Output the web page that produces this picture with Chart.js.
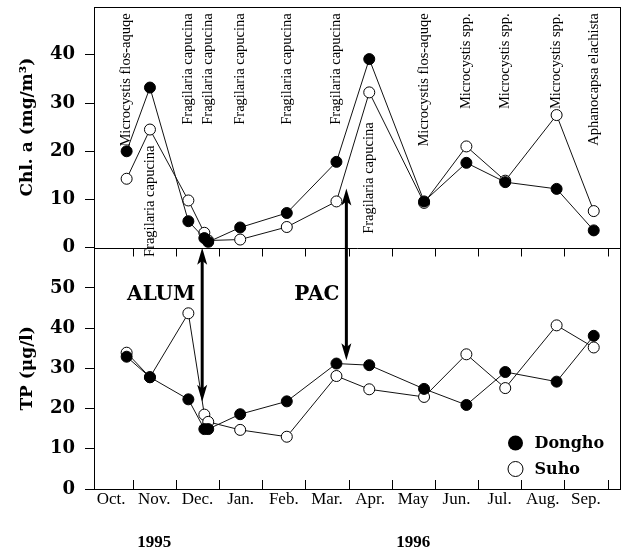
<!DOCTYPE html>
<html>
<head>
<meta charset="utf-8">
<script src="https://cdn.jsdelivr.net/npm/chart.js@4.4.1/dist/chart.umd.min.js"></script>
<style>
  body { margin: 0; background: #fff; }
  #wrap { width: 627px; height: 555px; position: relative; }
</style>
</head>
<body>
<div id="wrap"><canvas id="chart"></canvas></div>
<script>
// sampling dates, in months counted from 1 Oct 1995
const sampleMonth = [0.86, 1.40, 2.29, 2.66, 2.75, 3.49, 4.57, 5.72, 6.48, 7.75, 8.73, 9.63, 10.82, 11.68];

// Chl. a (mg/m3)
const chlDongho = [20.0, 33.2, 5.5, 2.0, 1.2, 4.2, 7.2, 17.8, 39.1, 9.6, 17.6, 13.6, 12.2, 3.6];
const chlSuho   = [14.3, 24.5, 9.8, 3.1, 1.5, 1.7, 4.3, 9.6, 32.2, 9.3, 21.0, 13.9, 27.5, 7.6];

// TP (ug/l)
const tpDongho = [32.9, 27.8, 22.3, 14.9, 14.9, 18.6, 21.8, 31.2, 30.8, 24.9, 20.9, 29.1, 26.7, 38.1];
const tpSuho   = [33.9, 27.8, 43.7, 18.5, 16.7, 14.7, 13.0, 28.1, 24.8, 22.9, 33.5, 25.1, 40.7, 35.2];

// dominant species at each sampling
const species = ['Microcystis flos-aquqe', 'Fragilaria capucina', 'Fragilaria capucina', '',
  'Fragilaria capucina', 'Fragilaria capucina', 'Fragilaria capucina', 'Fragilaria capucina',
  'Fragilaria capucina', 'Microcystis flos-aquqe', 'Microcystis spp.', 'Microcystis spp.',
  'Microcystis spp.', 'Aphanocapsa elachista'];

const monthNames = ['Oct.', 'Nov.', 'Dec.', 'Jan.', 'Feb.', 'Mar.', 'Apr.', 'May', 'Jun.', 'Jul.', 'Aug.', 'Sep.'];
const yearLabels = ['1995', '1996'];
const chlTicks = [0, 10, 20, 30, 40];
const tpTicks = [0, 10, 20, 30, 40, 50];

function pts(vals) {
  return vals.map((v, i) => ({ x: sampleMonth[i], y: v }));
}

const filled = { borderColor: '#111', backgroundColor: '#000', pointBackgroundColor: '#000',
  pointBorderColor: '#000', borderWidth: 1, pointRadius: 5.5, pointBorderWidth: 1 };
const open = { borderColor: '#111', backgroundColor: '#fff', pointBackgroundColor: '#fff',
  pointBorderColor: '#000', borderWidth: 1, pointRadius: 5.5, pointBorderWidth: 1 };

const overlay = {
  id: 'overlay',
  afterDraw(chart) {
    const { ctx, chartArea: a, scales: { x, y, y2 } } = chart;
    ctx.save();
    ctx.strokeStyle = '#000';
    ctx.lineWidth = 1;
    // frame + panel divider
    ctx.strokeRect(Math.round(a.left) + 0.5, Math.round(a.top) + 0.5,
      Math.round(a.width) - 1, Math.round(a.height) - 1);
    const mid = Math.round(y.bottom) + 0.5;
    ctx.beginPath();
    ctx.moveTo(a.left, mid); ctx.lineTo(a.right, mid);
    // inward month ticks
    for (let k = 1; k <= 12; k++) {
      const px = Math.round(x.getPixelForValue(k)) + 0.5;
      ctx.moveTo(px, a.bottom); ctx.lineTo(px, a.bottom - 9);
      ctx.moveTo(px, mid); ctx.lineTo(px, mid + 8);
    }
    ctx.stroke();

    // species names, vertical
    const lowLabel = { 1: 21.2, 8: 26 };
    ctx.fillStyle = '#000';
    ctx.font = '14.5px "Liberation Serif"';
    ctx.textAlign = 'right';
    ctx.textBaseline = 'middle';
    species.forEach((s, i) => {
      if (!s) return;
      const px = x.getPixelForValue(sampleMonth[i]);
      const py = y.getPixelForValue(lowLabel[i] !== undefined ? lowLabel[i] : 48.6);
      ctx.save();
      ctx.translate(px, py);
      ctx.rotate(-Math.PI / 2);
      ctx.fillText(s, 0, 0);
      ctx.restore();
    });

    // treatment arrows
    function head(px, tip, dir) {
      ctx.beginPath();
      ctx.moveTo(px, tip);
      ctx.lineTo(px - 5, tip + dir * 17);
      ctx.lineTo(px, tip + dir * 13);
      ctx.lineTo(px + 5, tip + dir * 17);
      ctx.closePath();
      ctx.fill();
    }
    function arrow(month, chlTop, tpBottom, label) {
      const px = x.getPixelForValue(month);
      const top = y.getPixelForValue(chlTop);
      const bot = y2.getPixelForValue(tpBottom);
      ctx.lineWidth = 3;
      ctx.beginPath();
      ctx.moveTo(px, top + 10); ctx.lineTo(px, bot - 10);
      ctx.stroke();
      head(px, top, 1);
      head(px, bot, -1);
      ctx.font = 'bold 20px "DejaVu Serif"';
      ctx.textAlign = 'right';
      ctx.textBaseline = 'alphabetic';
      ctx.fillText(label, px - 7, y2.getPixelForValue(47));
    }
    arrow(2.61, 0, 21.7, 'ALUM');
    arrow(5.95, 12.3, 32.0, 'PAC');

    // legend
    const lx = a.right - 105;
    ctx.lineWidth = 1;
    ctx.beginPath();
    ctx.arc(lx, a.bottom - 46, 7.5, 0, Math.PI * 2);
    ctx.fill();
    ctx.beginPath();
    ctx.arc(lx, a.bottom - 20, 7.5, 0, Math.PI * 2);
    ctx.fillStyle = '#fff';
    ctx.fill();
    ctx.stroke();
    ctx.fillStyle = '#000';
    ctx.font = 'bold 16px "DejaVu Serif"';
    ctx.textAlign = 'left';
    ctx.fillText('Dongho', lx + 19, a.bottom - 41);
    ctx.fillText('Suho', lx + 19, a.bottom - 15);

    // years under the month axis
    ctx.font = 'bold 17px "Liberation Serif"';
    ctx.textAlign = 'center';
    ctx.fillText(yearLabels[0], x.getPixelForValue(1.5), a.bottom + 58);
    ctx.fillText(yearLabels[1], x.getPixelForValue(7.5), a.bottom + 58);
    ctx.restore();
  }
};

const tickFont = { family: 'DejaVu Serif', size: 18, weight: 'bold' };
const titleFont = { family: 'DejaVu Serif', size: 17, weight: 'bold' };

function fitY(s) {
  s.width = 94;
  s.paddingTop = 0;
  s.paddingBottom = 0;
}

new Chart(document.getElementById('chart'), {
  type: 'line',
  data: {
    datasets: [
      Object.assign({ label: 'Dongho', data: pts(chlDongho), yAxisID: 'y' }, filled),
      Object.assign({ label: 'Suho', data: pts(chlSuho), yAxisID: 'y' }, open),
      Object.assign({ label: 'Dongho', data: pts(tpDongho), yAxisID: 'y2' }, filled),
      Object.assign({ label: 'Suho', data: pts(tpSuho), yAxisID: 'y2' }, open)
    ]
  },
  options: {
    responsive: true,
    maintainAspectRatio: false,
    animation: false,
    layout: { padding: { top: 6, right: 6, left: 0, bottom: 0 } },
    plugins: { legend: { display: false }, tooltip: { enabled: false } },
    scales: {
      x: {
        type: 'linear',
        position: 'bottom',
        min: 0.104,
        max: 12.3,
        afterBuildTicks: s => { s.ticks = monthNames.map((m, i) => ({ value: i + 0.5 })); },
        afterFit: s => { s.height = 66; s.paddingLeft = 0; s.paddingRight = 0; },
        grid: { display: false, drawTicks: false },
        border: { display: false },
        ticks: {
          autoSkip: false, maxRotation: 0, padding: 0, color: '#000',
          font: { family: 'Liberation Serif', size: 17 },
          callback: v => monthNames[Math.floor(v)]
        }
      },
      y: {
        type: 'linear',
        position: 'left',
        stack: 'panels',
        weight: 2,
        min: 0,
        max: 50,
        afterBuildTicks: s => { s.ticks = chlTicks.map(v => ({ value: v })); },
        afterFit: fitY,
        grid: { drawOnChartArea: false, tickLength: 9, color: '#000' },
        border: { display: false },
        ticks: { padding: 10, color: '#000', font: tickFont },
        title: { display: true, text: 'Chl. a (mg/m³)', color: '#000', font: titleFont,
          padding: { top: 17, bottom: 0 } }
      },
      y2: {
        type: 'linear',
        position: 'left',
        stack: 'panels',
        weight: 1,
        min: 0,
        max: 60,
        afterBuildTicks: s => { s.ticks = tpTicks.map(v => ({ value: v })); },
        afterFit: fitY,
        grid: { drawOnChartArea: false, tickLength: 9, color: '#000' },
        border: { display: false },
        ticks: { padding: 10, color: '#000', font: tickFont },
        title: { display: true, text: 'TP (μg/l)', color: '#000', font: titleFont,
          padding: { top: 17, bottom: 0 } }
      }
    }
  },
  plugins: [overlay]
});
</script>
</body>
</html>
